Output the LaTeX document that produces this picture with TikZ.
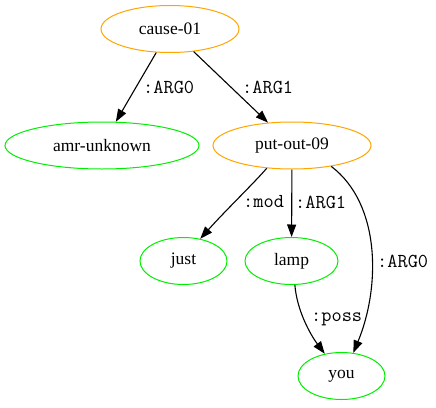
\documentclass[tikz,border=0pt]{standalone}
\usepackage{fontspec}
\setmainfont{Liberation Serif}
\usetikzlibrary{shapes.geometric,arrows.meta}
\definecolor{predcol}{RGB}{255,165,0}
\definecolor{conceptcol}{RGB}{0,238,0}
\tikzset{
  concept/.style={ellipse, draw=conceptcol, line width=1pt, inner sep=0pt,
    minimum height=47pt, font=\fontsize{17.5}{20}\selectfont},
  pred/.style={concept, draw=predcol},
  rel/.style={draw=black, line width=1.1pt, -{Triangle[length=12.5pt,width=9pt]}},
  rellabel/.style={anchor=west, inner sep=0pt, font=\ttfamily\fontsize{19.8}{22}\selectfont}
}
\begin{document}
\begin{tikzpicture}[x=1pt,y=-1pt]
  \useasboundingbox (0,0) rectangle (436,407);

  % concepts
  \node[pred, minimum width=138pt]    (cause) at (170,29)    {cause-01};
  \node[concept, minimum width=194pt] (amr)   at (102,145.5) {amr-unknown};
  \node[pred, minimum width=158pt]    (put)   at (292,145.5) {put-out-09};
  \node[concept, minimum width=87pt]  (just)  at (183.5,261) {just};
  \node[concept, minimum width=93pt]  (lamp)  at (291.5,261) {lamp};
  \node[concept, minimum width=87pt]  (you)   at (341.5,376) {you};

  % relations
  \draw[rel] (cause) -- (amr);
  \draw[rel] (cause) -- (put);
  \draw[rel] (put.222) .. controls +(-12,14) and +(25,-28) .. (just.53);
  \draw[rel] (put) -- (lamp);
  \draw[rel] (put.332) .. controls +(50,38) and +(27,-65) .. (you.63);
  \draw[rel] (lamp.278) .. controls +(2,25) and +(-15,-20) .. (you.127);

  % relation labels
  \node[rellabel] (l1) at (143,87)  {:ARG0};
  \node[rellabel] (l2) at (242,87)  {:ARG1};
  \node[rellabel] (l3) at (243,202) {:mod};
  \node[rellabel] (l4) at (295,202) {:ARG1};
  \node[rellabel] (l5) at (377,261) {:ARG0};
  \node[rellabel] (l6) at (311,319) {:poss};
\end{tikzpicture}
\end{document}
